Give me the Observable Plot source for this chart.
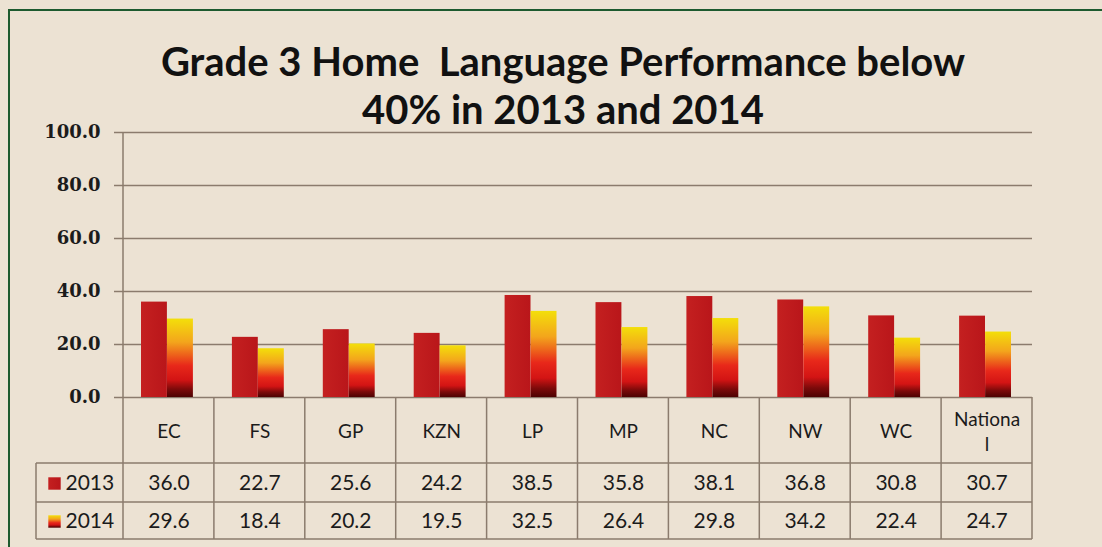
<!DOCTYPE html>
<html>
<head>
<meta charset="utf-8">
<script src="https://cdn.jsdelivr.net/npm/d3@7"></script>
<script src="https://cdn.jsdelivr.net/npm/@observablehq/plot@0.6"></script>
<style>
  html, body { margin: 0; padding: 0; background: #ece2d3; }
  #wrap { position: relative; width: 1102px; height: 547px; overflow: hidden; background: #ece2d3; }
  #frame { position: absolute; left: 8px; top: 9px; right: -10px; bottom: -10px;
           border-top: 2px solid #1d5a2e; border-left: 2px solid #1d5a2e; pointer-events: none; }
  #wrap svg { position: absolute; left: 0; top: 0; }
</style>
</head>
<body>
<div id="wrap"><div id="frame"></div></div>
<script>
const categories = ["EC", "FS", "GP", "KZN", "LP", "MP", "NC", "NW", "WC", "National"];
const categoryLabels = ["EC", "FS", "GP", "KZN", "LP", "MP", "NC", "NW", "WC", "Nationa\nl"];
const values2013 = [36.0, 22.7, 25.6, 24.2, 38.5, 35.8, 38.1, 36.8, 30.8, 30.7];
const values2014 = [29.6, 18.4, 20.2, 19.5, 32.5, 26.4, 29.8, 34.2, 22.4, 24.7];
const years = ["2013", "2014"];
const yTicks = [0, 20, 40, 60, 80, 100];
const titleText = "Grade 3 Home  Language Performance below\n40% in 2013 and 2014";

const rows = categories.map((c, i) => ({cat: c, label: categoryLabels[i], v2013: values2013[i], v2014: values2014[i]}));
const series = [
  {year: years[0], key: "v2013", fill: "url(#g2013)", insetLeft: 18, insetRight: 47, dy: 86},
  {year: years[1], key: "v2014", fill: "url(#g2014)", insetLeft: 44, insetRight: 21, dy: 124}
];
const lineColor = "#8b7b6d";
const textColor = "#1b1b1b";

const defsMark = () => {
  const defs = document.createElementNS("http://www.w3.org/2000/svg", "defs");
  defs.innerHTML = `
    <linearGradient id="g2013" x1="0" y1="0" x2="1" y2="0">
      <stop offset="0" stop-color="#c42020"/>
      <stop offset="1" stop-color="#b9161a"/>
    </linearGradient>
    <linearGradient id="g2014" x1="0" y1="0" x2="0" y2="1">
      <stop offset="0" stop-color="#f3df0a"/>
      <stop offset="0.3" stop-color="#f3a51c"/>
      <stop offset="0.6" stop-color="#e8281a"/>
      <stop offset="0.78" stop-color="#d31414"/>
      <stop offset="0.9" stop-color="#7c0a0a"/>
      <stop offset="1" stop-color="#4d0202"/>
    </linearGradient>`;
  return defs;
};

const tableMark = (index, scales, values, dims) => {
  const {width, height, marginLeft, marginRight, marginTop, marginBottom} = dims;
  const bottom = height - marginBottom;
  const right = width - marginRight;
  const bw = (right - marginLeft) / categories.length;
  const rowEdges = [66, 105, 142];
  const g = document.createElementNS("http://www.w3.org/2000/svg", "g");
  const line = (x1, y1, x2, y2) => {
    const l = document.createElementNS("http://www.w3.org/2000/svg", "line");
    l.setAttribute("x1", x1); l.setAttribute("y1", y1);
    l.setAttribute("x2", x2); l.setAttribute("y2", y2);
    l.setAttribute("stroke", lineColor); l.setAttribute("stroke-width", 1.5);
    g.appendChild(l);
  };
  line(marginLeft, marginTop, marginLeft, bottom + rowEdges[2]);
  categories.forEach((c, i) => {
    const x = marginLeft + (i + 1) * bw;
    line(x, bottom, x, bottom + rowEdges[2]);
  });
  rowEdges.forEach(dy => line(marginLeft - 87, bottom + dy, right, bottom + dy));
  line(marginLeft - 87, bottom + rowEdges[0], marginLeft - 87, bottom + rowEdges[2]);
  return g;
};

const chart = Plot.plot({
  width: 1102,
  height: 547,
  marginLeft: 123,
  marginRight: 70,
  marginTop: 132,
  marginBottom: 150,
  style: {background: "transparent", fontFamily: "Lato", overflow: "visible", color: textColor},
  x: {domain: categories, padding: 0, round: false, axis: null},
  y: {domain: [0, 100], axis: null},
  marks: [
    defsMark,
    Plot.ruleY(yTicks, {stroke: lineColor, strokeWidth: 1.5, insetLeft: -9}),
    Plot.axisY({ticks: yTicks, tickFormat: d => d.toFixed(1), tickSize: 0, tickPadding: 23,
                fontSize: 18, fontFamily: "DejaVu Serif", fontWeight: "bold", fill: textColor}),
    ...series.map(s => Plot.barY(rows, {x: "cat", y: s.key, fill: s.fill,
                                        insetLeft: s.insetLeft, insetRight: s.insetRight})),
    tableMark,
    Plot.text(rows, {x: "cat", text: "label", frameAnchor: "bottom", lineAnchor: "middle", dy: 33,
                     fontSize: 19, fill: textColor, lineHeight: 1.3}),
    ...series.map(s => Plot.text(rows, {x: "cat", text: d => d[s.key].toFixed(1), frameAnchor: "bottom",
                                        lineAnchor: "middle", dy: s.dy, fontSize: 21, fill: textColor})),
    ...series.map(s => Plot.dot([s.year], {frameAnchor: "bottom-left", dx: -69, dy: s.dy,
                                           symbol: "square", r: 7, fill: s.fill})),
    ...series.map(s => Plot.text([s.year], {frameAnchor: "bottom-left", lineAnchor: "middle", dx: -58, dy: s.dy,
                                            text: d => d, textAnchor: "start", fontSize: 21, fill: textColor})),
    Plot.text([titleText], {frameAnchor: "top", dx: -15, dy: -91, lineAnchor: "top",
                            text: d => d, fontSize: 40, fontWeight: "bold", lineHeight: 1.2,
                            fill: "#111", fontFamily: "Lato"})
  ]
});
document.getElementById("wrap").appendChild(chart);
</script>
</body>
</html>
